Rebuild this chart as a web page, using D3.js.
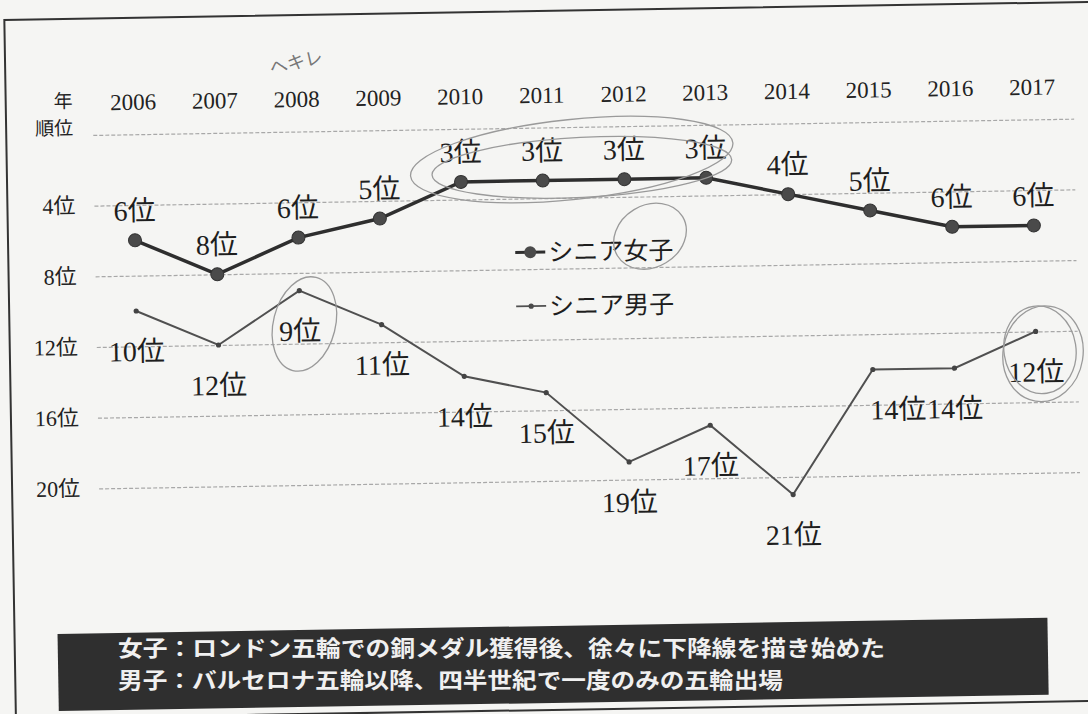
<!DOCTYPE html>
<html>
<head>
<meta charset="utf-8">
<script src="https://cdn.jsdelivr.net/npm/d3@7/dist/d3.min.js"></script>
<style>
  body { margin: 0; background: #f5f5f3; }
  svg { display: block; }
</style>
</head>
<body>
<div id="chart"></div>
<script>
const years = ['2006', '2007', '2008', '2009', '2010', '2011', '2012', '2013', '2014', '2015', '2016', '2017'];
const womenRank = [6, 8, 6, 5, 3, 3, 3, 3, 4, 5, 6, 6];
const menRank = [10, 12, 9, 11, 14, 15, 19, 17, 21, 14, 14, 12];
const gridRanks = [0, 4, 8, 12, 16, 20];
const seriesNames = ['シニア女子', 'シニア男子'];
const noteLines = [
    '女子：ロンドン五輪での銅メダル獲得後、徐々に下降線を描き始めた',
    '男子：バルセロナ五輪以降、四半世紀で一度のみの五輪出場'
];

const width = 1088;
const height = 714;
const serif = "'Liberation Serif', 'Noto Sans CJK JP', serif";
const cjk = "'Noto Sans CJK JP', sans-serif";

const svg = d3.select('#chart')
.append('svg')
.attr('width', width)
.attr('height', height);

svg.append('rect')
.attr('width', width)
.attr('height', height)
.attr('fill', '#f5f5f3');

// the scan is tilted a little, so everything sits in one rotated group
const g = svg.append('g')
.attr('transform', 'rotate(-0.95, 544, 357)');

// frame
g.append('path')
.attr('d', 'M10,716 L10,11 L1100,11')
.attr('fill', 'none')
.attr('stroke', '#333')
.attr('stroke-width', 2);
g.append('line')
.attr('x1', 10).attr('x2', 1100)
.attr('y1', 710).attr('y2', 710)
.attr('stroke', '#333')
.attr('stroke-width', 2);

const x = d3.scalePoint()
.domain(years)
.range([137, 1036]);

const y = d3.scaleLinear()
.domain([0, 20])
.range([127.5, 481]);

// rank grid + labels
const yAxis = g.append('g')
.attr('transform', 'translate(97,0)')
.call(d3.axisLeft(y)
    .tickValues(gridRanks)
    .tickSize(-981)
    .tickPadding(19)
    .tickFormat(d => d === 0 ? '' : d + '位'));
yAxis.select('.domain').remove();
yAxis.selectAll('.tick line')
.attr('stroke', '#a8a8a8')
.attr('stroke-width', 1.2)
.attr('stroke-dasharray', '4,2');
yAxis.selectAll('.tick text')
.attr('font-family', serif)
.attr('font-size', 22)
.attr('fill', '#222');

// year labels
const xAxis = g.append('g')
.attr('transform', 'translate(0,103)')
.call(d3.axisTop(x).tickSize(0).tickPadding(0));
xAxis.select('.domain').remove();
xAxis.selectAll('.tick text')
.attr('font-family', serif)
.attr('font-size', 23)
.attr('fill', '#222');

g.append('text')
.attr('x', 77).attr('y', 100)
.attr('text-anchor', 'end')
.attr('font-family', cjk)
.attr('font-size', 19)
.attr('fill', '#222')
.text('年');
g.append('text')
.attr('x', 77).attr('y', 127)
.attr('text-anchor', 'end')
.attr('font-family', cjk)
.attr('font-size', 19)
.attr('fill', '#222')
.text('順位');

const line = d3.line()
.x((d, i) => x(years[i]))
.y(d => y(d));

// men
g.append('path')
.datum(menRank)
.attr('d', line)
.attr('fill', 'none')
.attr('stroke', '#505050')
.attr('stroke-width', 2);
g.selectAll('.men-dot')
.data(menRank)
.enter()
.append('circle')
.attr('cx', (d, i) => x(years[i]))
.attr('cy', d => y(d))
.attr('r', 2.6)
.attr('fill', '#444');
g.selectAll('.men-label')
.data(menRank)
.enter()
.append('text')
.attr('x', (d, i) => x(years[i]) + (i === 9 ? 25 : 0))
.attr('y', d => y(d) + 50)
.attr('text-anchor', 'middle')
.attr('font-family', serif)
.attr('font-size', 28)
.attr('fill', '#1e1e1e')
.text(d => d + '位');

// women
g.append('path')
.datum(womenRank)
.attr('d', line)
.attr('fill', 'none')
.attr('stroke', '#2e2e2e')
.attr('stroke-width', 3.5);
g.selectAll('.women-dot')
.data(womenRank)
.enter()
.append('circle')
.attr('cx', (d, i) => x(years[i]))
.attr('cy', d => y(d))
.attr('r', 6.5)
.attr('fill', '#4a4a4a')
.attr('stroke', '#333')
.attr('stroke-width', 1);
g.selectAll('.women-label')
.data(womenRank)
.enter()
.append('text')
.attr('x', (d, i) => x(years[i]))
.attr('y', d => y(d) - 20)
.attr('text-anchor', 'middle')
.attr('font-family', serif)
.attr('font-size', 28)
.attr('fill', '#1e1e1e')
.text(d => d + '位');

// legend
const legend = g.selectAll('.legend')
.data(seriesNames)
.enter()
.append('g')
.attr('transform', (d, i) => `translate(517,${252 + i * 54})`);
legend.append('line')
.attr('x1', 0).attr('x2', 30)
.attr('stroke', (d, i) => i === 0 ? '#2e2e2e' : '#505050')
.attr('stroke-width', (d, i) => i === 0 ? 3 : 1.8);
legend.append('circle')
.attr('cx', 15)
.attr('r', (d, i) => i === 0 ? 6 : 2.6)
.attr('fill', '#4a4a4a');
legend.append('text')
.attr('x', 33)
.attr('y', 9)
.attr('font-family', cjk)
.attr('font-size', 25)
.attr('fill', '#1e1e1e')
.text(d => d);

// note box (text kept level so the two lines don't collide)
g.append('rect')
.attr('x', 53).attr('y', 626)
.attr('width', 990).attr('height', 77)
.attr('fill', '#2f2f2f');
svg.selectAll('.note')
.data(noteLines)
.enter()
.append('text')
.attr('class', 'note')
.attr('x', 118)
.attr('y', (d, i) => 656 + i * 32)
.attr('font-family', cjk)
.attr('font-weight', 'bold')
.attr('font-size', 22)
.attr('fill', '#f0f0f0')
.attr('textLength', (d, i) => i === 0 ? 767 : 665)
.attr('lengthAdjust', 'spacingAndGlyphs')
.text(d => d);

// hand-drawn marks on the printout
const marks = [
    {cx: 575, cy: 160, rx: 162, ry: 40, a: -5},
    {cx: 585, cy: 168, rx: 150, ry: 30, a: -2},
    {cx: 652, cy: 238, rx: 38, ry: 31, a: -30},
    {cx: 305, cy: 320, rx: 31, ry: 48, a: 15},
    {cx: 1043, cy: 362, rx: 40, ry: 48, a: 10},
    {cx: 1040, cy: 358, rx: 36, ry: 44, a: -8}
];
g.selectAll('.mark')
.data(marks)
.enter()
.append('ellipse')
.attr('cx', d => d.cx).attr('cy', d => d.cy)
.attr('rx', d => d.rx).attr('ry', d => d.ry)
.attr('transform', d => `rotate(${d.a},${d.cx},${d.cy})`)
.attr('fill', 'none')
.attr('stroke', '#9a9a9a')
.attr('stroke-width', 1.3);
g.append('text')
.attr('x', 276).attr('y', 70)
.attr('transform', 'rotate(-12,276,70)')
.attr('font-family', cjk)
.attr('font-size', 18)
.attr('fill', '#777')
.text('へキレ');
</script>
</body>
</html>
